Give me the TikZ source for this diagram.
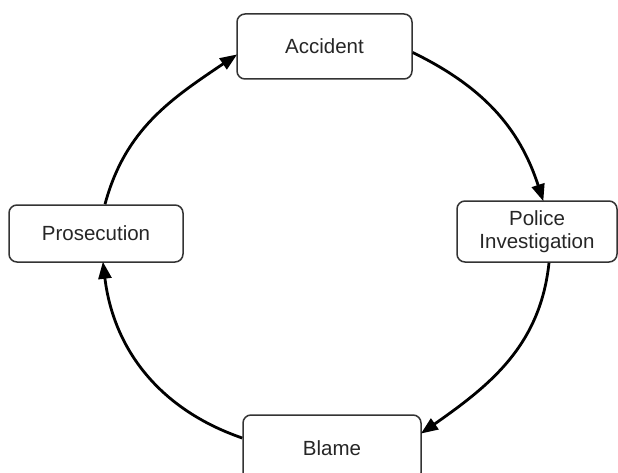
\documentclass[tikz,border=0pt]{standalone}
\usepackage{fontspec}
\setmainfont{Liberation Sans}
\usetikzlibrary{arrows.meta}

\tikzset{
  stage/.style={draw=black!80, line width=1.5pt, rounded corners=8pt, fill=white,
                align=center, inner sep=0pt, text=black!85,
                font=\fontsize{20.5}{22.5}\selectfont},
  flow/.style={line width=2.8pt, black,
               -{Triangle[length=17pt,width=13pt]}, shorten >=-1pt}
}

\begin{document}
\begin{tikzpicture}[x=1pt,y=1pt]
  % page frame
  \useasboundingbox (0,0) rectangle (618,472);
  \clip (0,0) rectangle (618,472);
  \fill[white] (0,0) rectangle (618,472);

  % the four stages of the cycle
  \node[stage, minimum width=175pt, minimum height=65pt] (acc) at (324.5,425.5) {Accident};
  \node[stage, minimum width=160pt, minimum height=61pt] (pol) at (537,240.5) {Police\\Investigation};
  \node[stage, minimum width=178pt, minimum height=66pt] (bla) at (332,24) {Blame};
  \node[stage, minimum width=174pt, minimum height=57pt] (pro) at (96,238.5) {Prosecution};

  % curved connectors running clockwise
  \draw[flow] ([yshift=-6pt]acc.east) to[out=-26, in=108] ([xshift=6pt]pol.north);
  \draw[flow] ([xshift=12pt]pol.south) to[out=-96, in=35] ([yshift=15pt]bla.east);
  \draw[flow] ([yshift=10pt]bla.west) to[out=161, in=-83] ([xshift=7pt]pro.south);
  \draw[flow] ([xshift=9pt]pro.north) to[out=75, in=214] ([yshift=-8.5pt]acc.west);
\end{tikzpicture}
\end{document}
